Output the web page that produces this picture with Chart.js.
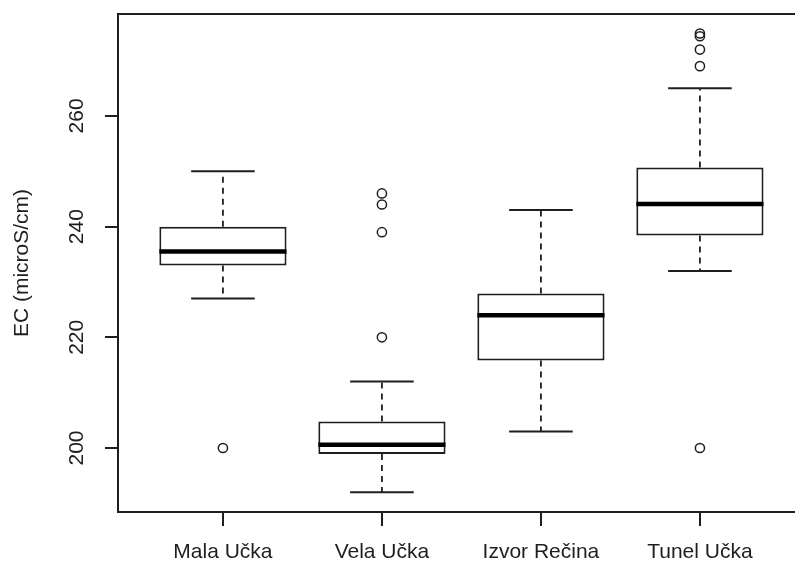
<!DOCTYPE html>
<html>
<head>
<meta charset="utf-8">
<script src="https://cdn.jsdelivr.net/npm/chart.js@4/dist/chart.umd.min.js"></script>
<style>
  html, body { margin: 0; padding: 0; background: #ffffff; }
  canvas { display: block; }
</style>
</head>
<body>
<canvas id="c" width="795" height="567"></canvas>
<script>
// ---- data ----
const categories  = ['Mala Učka', 'Vela Učka', 'Izvor Rečina', 'Tunel Učka'];
const whiskerLow  = [227, 192, 203, 232];
const q1          = [233, 198.9, 215.8, 238.4];
const median      = [235.5, 200.6, 224, 244.1];
const q3          = [240, 204.8, 227.9, 250.7];
const whiskerHigh = [250, 212, 243, 265];
const outliers    = [[200], [246, 244, 239, 220], [], [274.9, 274.4, 272, 269, 200]];
const yTickValues = [200, 220, 240, 260];
const yLabel      = 'EC (microS/cm)';

// ---- build datasets from the arrays ----
const pos = categories.map((_, i) => i + 1);
const boxData = pos.map((x, i) => ({ x, y: [q1[i], q3[i]] }));
const medianData = pos.map((x, i) => ({ x, y: median[i] }));
const capData = [];
const whiskerData = [];
pos.forEach((x, i) => {
  capData.push({ x, y: whiskerLow[i] }, { x, y: whiskerHigh[i] });
  whiskerData.push({ x, y: q3[i] }, { x, y: whiskerHigh[i] }, { x, y: null });
  whiskerData.push({ x, y: q1[i] }, { x, y: whiskerLow[i] }, { x, y: null });
});
const outlierData = [];
pos.forEach((x, i) => outliers[i].forEach(v => outlierData.push({ x, y: v })));

const INK = '#1e1e1e';
const FONT = "'Liberation Sans', Arial, sans-serif";

// half-width (in px) of a span of x units, through the x scale
const halfPx = (chart, units) => {
  const s = chart.scales.x;
  return Math.abs(s.getPixelForValue(1 + units) - s.getPixelForValue(1));
};
const noPad = s => { s.paddingTop = 0; s.paddingBottom = 0; s.paddingLeft = 0; s.paddingRight = 0; };

new Chart(document.getElementById('c'), {
  type: 'bar',
  data: {
    datasets: [
      { type: 'scatter', data: medianData, pointStyle: 'line',
        pointRadius: c => halfPx(c.chart, 0.4), pointHoverRadius: c => halfPx(c.chart, 0.4),
        borderColor: '#000', borderWidth: 4.5, order: 0 },
      { type: 'scatter', data: capData, pointStyle: 'line',
        pointRadius: c => halfPx(c.chart, 0.2), pointHoverRadius: c => halfPx(c.chart, 0.2),
        borderColor: INK, borderWidth: 2, order: 1 },
      { type: 'line', data: whiskerData, spanGaps: false, borderColor: INK, borderWidth: 1.8,
        borderDash: [6, 5], pointRadius: 0, fill: false, order: 2 },
      { type: 'scatter', data: outlierData, pointStyle: 'circle', pointRadius: 4.6,
        borderColor: INK, borderWidth: 1.5, backgroundColor: 'rgba(0,0,0,0)', order: 3 },
      { type: 'bar', data: boxData, backgroundColor: '#ffffff', borderColor: INK,
        borderWidth: 2, borderSkipped: false, categoryPercentage: 0.8, barPercentage: 1,
        grouped: false, order: 4 }
    ]
  },
  options: {
    responsive: false,
    animation: false,
    devicePixelRatio: 1,
    layout: { autoPadding: false, padding: { top: 14, left: 0, right: 0, bottom: 0 } },
    plugins: { legend: { display: false }, tooltip: { enabled: false } },
    scales: {
      x: {
        type: 'linear', position: 'bottom', min: 0.34, max: 4.598, offset: false,
        afterFit: s => { s.height = 55; noPad(s); },
        afterBuildTicks: s => { s.ticks = pos.map(v => ({ value: v })); },
        ticks: { callback: v => categories[v - 1], color: INK, padding: 14,
                 font: { family: FONT, size: 21 }, maxRotation: 0, minRotation: 0 },
        grid: { offset: false, drawOnChartArea: false, drawTicks: true, tickLength: 14, color: INK, lineWidth: 2 },
        border: { display: true, color: INK, width: 2 }
      },
      xTop: {
        type: 'linear', position: 'top', min: 0.34, max: 4.598, offset: false,
        afterFit: s => { s.height = 0; noPad(s); },
        ticks: { display: false },
        grid: { display: false, drawTicks: false, offset: false },
        border: { display: true, color: INK, width: 2 }
      },
      y: {
        type: 'linear', position: 'left', min: 188.44, max: 278.42,
        afterFit: s => { s.width = 118; noPad(s); },
        afterBuildTicks: s => { s.ticks = yTickValues.map(v => ({ value: v })); },
        ticks: { minRotation: 90, maxRotation: 90, crossAlign: 'center', padding: 10,
                 color: INK, font: { family: FONT, size: 21 } },
        grid: { drawOnChartArea: false, drawTicks: true, tickLength: 13, color: INK, lineWidth: 2 },
        border: { display: true, color: INK, width: 2 },
        title: { display: true, text: yLabel, color: INK,
                 font: { family: FONT, size: 21 }, padding: { top: 10, bottom: 0 } }
      }
    }
  }
});
</script>
</body>
</html>
